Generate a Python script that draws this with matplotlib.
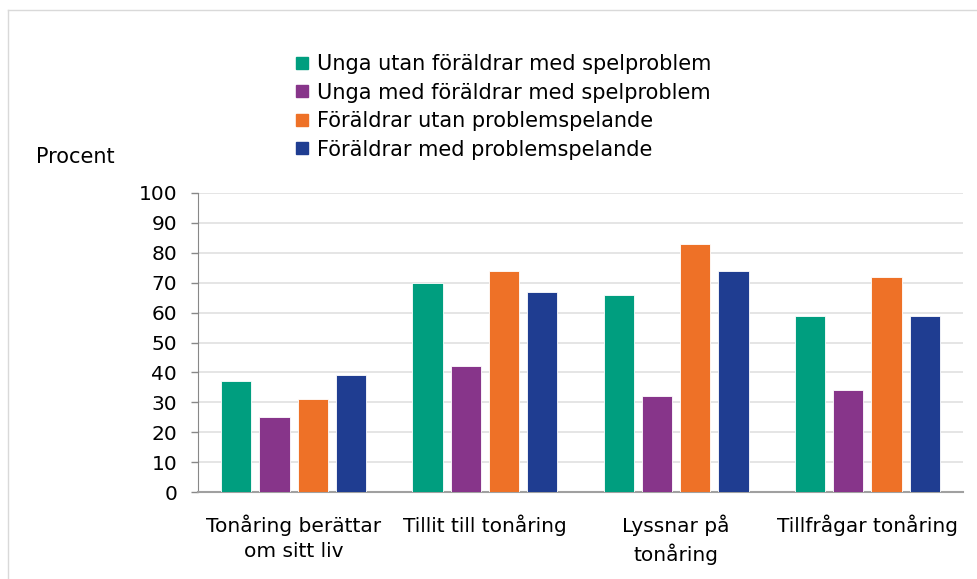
import matplotlib
matplotlib.use("Agg")
import matplotlib.pyplot as plt
import numpy as np
from matplotlib.lines import Line2D

categories = ["Tonåring berättar\nom sitt liv", "Tillit till tonåring", "Lyssnar på\ntonåring", "Tillfrågar tonåring"]
series_names = ["Unga utan föräldrar med spelproblem",
                "Unga med föräldrar med spelproblem",
                "Föräldrar utan problemspelande",
                "Föräldrar med problemspelande"]
unga_utan = [37, 70, 66, 59]
unga_med = [25, 42, 32, 34]
foraldrar_utan = [31, 74, 83, 72]
foraldrar_med = [39, 67, 74, 59]
yticks = [0, 10, 20, 30, 40, 50, 60, 70, 80, 90, 100]
colors = ["#009E7F", "#87358A", "#EE7127", "#1F3D91"]

plt.rcParams['font.family'] = ['DejaVu Sans']
fs_tick = 14.5
fs_leg = 15

fig = plt.figure(figsize=(9.78, 5.79), dpi=100)
W, H = 978, 579
ax = fig.add_axes([198 / W, 1 - 492 / H, (963 - 198) / W, (492 - 193) / H])

data = [unga_utan, unga_med, foraldrar_utan, foraldrar_med]
x = np.arange(len(categories))
pitch = 0.2
width = 0.158
for i, (vals, c) in enumerate(zip(data, colors)):
    ax.bar(x + (i - 1.5) * pitch, vals, width, color=c, edgecolor='white', linewidth=0.6, zorder=3)

ax.set_xlim(-0.5, len(categories) - 0.5)
ax.set_ylim(0, 100)
ax.set_yticks(yticks)
ax.set_yticklabels([str(v) for v in yticks], fontsize=fs_tick)
ax.set_xticks(x)
ax.set_xticklabels(categories, fontsize=fs_tick, linespacing=1.45)
ax.tick_params(axis='x', length=0, pad=16)
ax.tick_params(axis='y', length=5, color='#888888', width=1, pad=10)
ax.yaxis.grid(True, color='#E0E0E0', linewidth=1.2, zorder=0)
ax.set_axisbelow(True)
for s in ['top', 'right']:
    ax.spines[s].set_visible(False)
ax.spines['left'].set_color('#888888')
ax.spines['bottom'].set_color('#A0A0A0')
ax.spines['bottom'].set_linewidth(1.5)

fig.text(36 / W, 1 - 157 / H, "Procent", fontsize=fs_leg, va='center', ha='left')

handles = [Line2D([0], [0], marker='s', color='none', markerfacecolor=c, markeredgecolor=c, markersize=9) for c in colors]
leg = fig.legend(handles, series_names, loc='upper left', bbox_to_anchor=(295 / W, 1 - 54 / H),
                 frameon=False, fontsize=fs_leg, handlelength=0.7, handletextpad=0.35, labelspacing=0.41,
                 borderpad=0, borderaxespad=0)

# outer frame lines
fig.add_artist(Line2D([8 / W, 1], [1 - 10 / H, 1 - 10 / H], color='#D9D9D9', linewidth=1, transform=fig.transFigure))
fig.add_artist(Line2D([8 / W, 8 / W], [0, 1 - 10 / H], color='#D9D9D9', linewidth=1, transform=fig.transFigure))

fig.savefig("out.png", dpi=100, facecolor='white')
